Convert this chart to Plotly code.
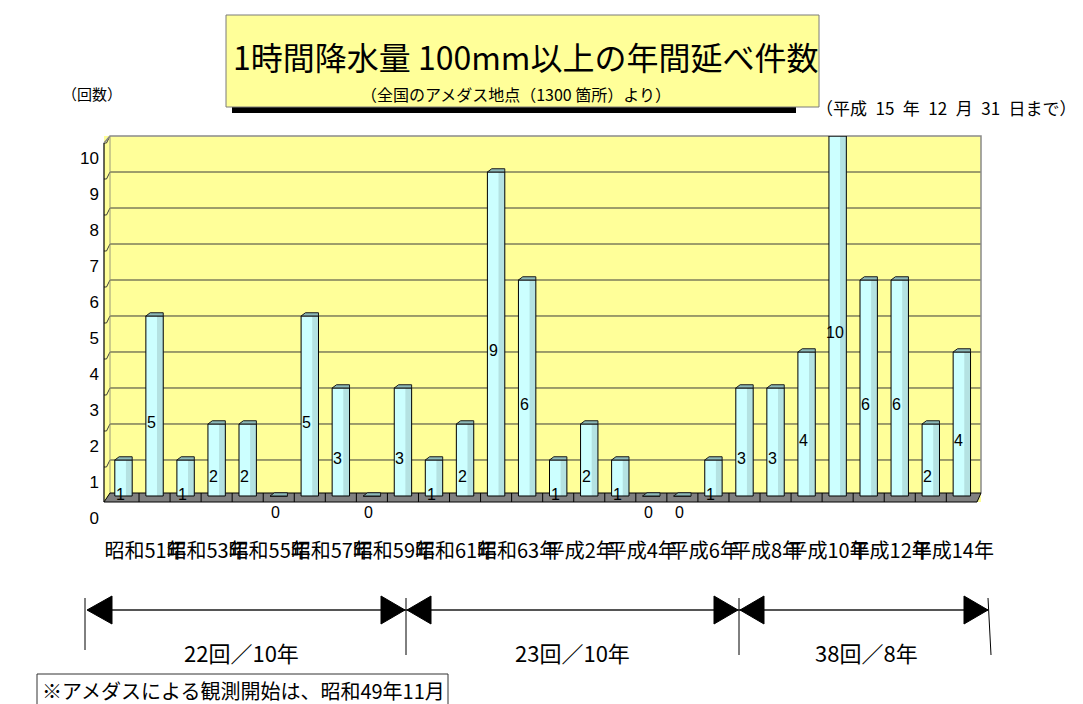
import plotly.graph_objects as go

# ---- data -------------------------------------------------------------
years = [
    "昭和51年", "昭和52年", "昭和53年", "昭和54年", "昭和55年",
    "昭和56年", "昭和57年", "昭和58年", "昭和59年", "昭和60年",
    "昭和61年", "昭和62年", "昭和63年", "平成元年", "平成2年",
    "平成3年", "平成4年", "平成5年", "平成6年", "平成7年",
    "平成8年", "平成9年", "平成10年", "平成11年", "平成12年",
    "平成13年", "平成14年", "平成15年",
]
counts = [1, 5, 1, 2, 2, 0, 5, 3, 0, 3,
          1, 2, 9, 6, 1, 2, 1, 0, 0, 1,
          3, 3, 4, 10, 6, 6, 2, 4]
y_ticks = list(range(0, 11))
period_labels = ["22回／10年", "23回／10年", "38回／8年"]

# ---- geometry helpers (pixel -> paper) --------------------------------
W, H = 1083, 704
L, R, T, B = 104, 102, 136, 202
PW, PH = W - L - R, H - T - B
X0, X1 = -0.628, 27.617
Y0, Y1 = -0.167, 10.0


def px(x):
    return (x - L) / PW


def py(y):
    return (H - B - y) / PH


JP = "Noto Sans CJK JP"
NUM = "Liberation Sans"
BW = 0.56
idx = list(range(len(years)))

fig = go.Figure()

# column front faces, shaded right strip, outline
fig.add_bar(x=idx, y=counts, width=BW, marker_color="#CCFFFF",
            marker_line_width=0, hoverinfo="skip")
fig.add_bar(x=idx, y=counts, width=BW * 0.36, offset=BW / 2 - BW * 0.36,
            marker_color="#B4E2E2", marker_line_width=0, hoverinfo="skip")
fig.add_bar(x=idx, y=counts, width=BW, marker_color="rgba(0,0,0,0)",
            marker_line=dict(color="black", width=1), hoverinfo="skip")

shapes = []

# back-wall gridlines and side-wall slants
for v in range(1, 10):
    shapes.append(dict(type="line", xref="paper", yref="y", x0=px(110), x1=1,
                       y0=v, y1=v, line=dict(color="#3c3c3c", width=1),
                       layer="between"))
for v in range(1, 11):
    ypix = T + (Y1 - v) / (Y1 - Y0) * PH
    shapes.append(dict(type="path", xref="paper", yref="paper",
                       path=f"M {px(110)},{py(ypix)} L {px(106.5)},{py(ypix + 7)} L {px(104)},{py(ypix + 7)}",
                       line=dict(color="#3c3c3c", width=1), layer="between"))

# wall borders
shapes.append(dict(type="path", xref="paper", yref="paper",
                   path=f"M {px(104)},{py(143)} L {px(110)},{py(136)} L {px(981)},{py(136)} L {px(981)},{py(493)}",
                   line=dict(color="#8a8a8a", width=1.5), layer="between"))
shapes.append(dict(type="line", xref="paper", yref="paper",
                   x0=px(110), x1=px(110), y0=py(136), y1=py(493),
                   line=dict(color="#9a9a7a", width=1), layer="between"))
shapes.append(dict(type="line", xref="paper", yref="paper",
                   x0=px(104), x1=px(104), y0=py(143), y1=py(502),
                   line=dict(color="black", width=1.2), layer="between"))

# floor slab
shapes.append(dict(type="path", xref="paper", yref="paper",
                   path=(f"M {px(104)},{py(502)} L {px(977)},{py(502)} "
                         f"L {px(981)},{py(493)} L {px(110)},{py(493)} Z"),
                   fillcolor="#808080", line=dict(color="black", width=1),
                   layer="between"))
for i in idx[:-1]:
    shapes.append(dict(type="line", xref="x", yref="paper",
                       x0=i + 0.5, x1=i + 0.5, y0=py(502), y1=py(493),
                       line=dict(color="black", width=1), layer="between"))

# column top faces
DX, DY = 0.14, 0.09
for i, v in zip(idx, counts):
    x0, x1 = i - BW / 2, i + BW / 2
    shapes.append(dict(type="path", xref="x", yref="y",
                       path=f"M {x0},{v} L {x0 + DX},{v + DY} L {x1},{v + DY} L {x1},{v} Z",
                       fillcolor="#8DBABA", line=dict(color="#1a1a1a", width=1),
                       layer="above"))

annotations = []
# value labels
for i, v in zip(idx, counts):
    annotations.append(dict(x=i, y=v / 2, xref="x", yref="y", text=str(v),
                            showarrow=False, xshift=-3, yshift=-17,
                            xanchor="center", yanchor="middle",
                            font=dict(family=NUM, size=16, color="black")))


def note(x, y, text, size, anchor="center", family=JP):
    return dict(x=px(x), y=py(y), xref="paper", yref="paper", text=text,
                showarrow=False, xanchor=anchor, yanchor="middle",
                font=dict(family=family, size=size, color="black"))


# title box with shadow
shapes.append(dict(type="rect", xref="paper", yref="paper",
                   x0=px(232), x1=px(796), y0=py(113), y1=py(106),
                   fillcolor="black", line_width=0))
shapes.append(dict(type="rect", xref="paper", yref="paper",
                   x0=px(226), x1=px(819), y0=py(107), y1=py(15),
                   fillcolor="#FFFF99", line=dict(color="#7a7a7a", width=1)))
annotations.append(note(525, 56, "1時間降水量 100mm以上の年間延べ件数", 32))
annotations.append(note(516, 94, "（全国のアメダス地点（1300 箇所）より）", 16))
annotations.append(note(92, 93, "（回数）", 15))
annotations.append(note(1079, 107, "（平成\u200215\u2002年\u200212\u2002月\u200231\u2002日まで）",
                        17, anchor="right"))

# period arrows
ARR_Y = 610
shapes.append(dict(type="line", xref="paper", yref="paper",
                   x0=px(88), x1=px(988), y0=py(ARR_Y), y1=py(ARR_Y),
                   line=dict(color="#555555", width=2)))


def tri(tip, base):
    return dict(type="path", xref="paper", yref="paper",
                path=(f"M {px(tip)},{py(ARR_Y)} L {px(base)},{py(ARR_Y - 14)} "
                      f"L {px(base)},{py(ARR_Y + 14)} Z"),
                fillcolor="black", line=dict(color="black", width=1))


for tip, base in [(87, 112), (405, 381), (407, 431), (738, 714), (740, 764), (988, 964)]:
    shapes.append(tri(tip, base))
for xa, xb, yb in [(85, 85, 650), (406, 406, 655), (739, 739, 655), (988, 991, 655)]:
    shapes.append(dict(type="line", xref="paper", yref="paper",
                       x0=px(xa), x1=px(xb), y0=py(598), y1=py(yb),
                       line=dict(color="black", width=1)))
for cx, lab in zip([241, 572, 866], period_labels):
    annotations.append(note(cx, 652, lab, 22))

# footnote
shapes.append(dict(type="rect", xref="paper", yref="paper",
                   x0=px(37), x1=px(448), y0=py(674), y1=py(710),
                   fillcolor="white", line=dict(color="#333333", width=1)))
annotations.append(note(40, 690, "※アメダスによる観測開始は、昭和49年11月", 20, anchor="left"))

fig.update_layout(
    width=W, height=H,
    margin=dict(l=L, r=R, t=T, b=B, autoexpand=False),
    paper_bgcolor="white", plot_bgcolor="#FFFF99",
    barmode="overlay", showlegend=False,
    shapes=shapes, annotations=annotations,
    xaxis=dict(range=[X0, X1], tickmode="array", tickvals=idx[::2],
               ticktext=years[::2], tickangle=0, showgrid=False,
               zeroline=False, showline=False, ticks="",
               ticklabelshift=22, ticklabelstandoff=35,
               tickfont=dict(family=JP, size=20, color="black")),
    yaxis=dict(range=[Y0, Y1], tickmode="array", tickvals=y_ticks,
               showgrid=False, zeroline=False, showline=False, ticks="",
               ticklabelshift=22, ticklabelstandoff=4,
               tickfont=dict(family=NUM, size=17, color="black")),
)

fig.write_html("out.html")
